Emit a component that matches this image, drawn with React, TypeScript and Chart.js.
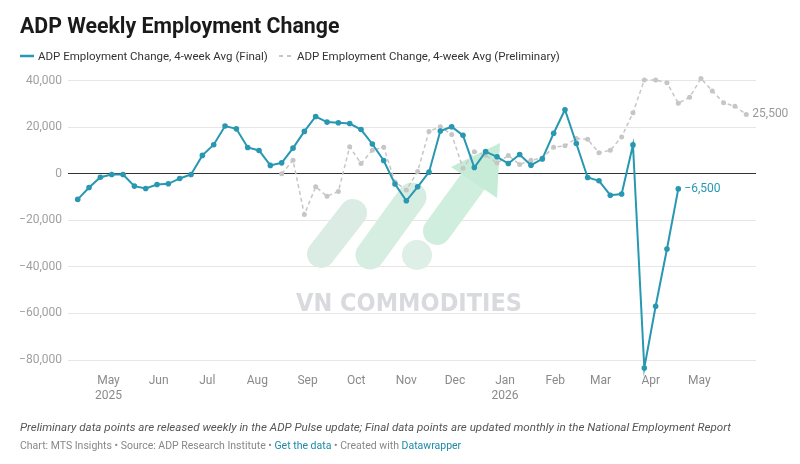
import React, { useEffect, useRef } from "react";
import { Chart, registerables } from "chart.js";

Chart.register(...registerables);

const TITLE = "ADP Weekly Employment Change";
const FINAL_LABEL = "ADP Employment Change, 4-week Avg (Final)";
const PRELIM_LABEL = "ADP Employment Change, 4-week Avg (Preliminary)";
const NOTE =
  "Preliminary data points are released weekly in the ADP Pulse update; Final data points are updated monthly in the National Employment Report";
const WATERMARK = "VN COMMODITIES";

const AXIS_ORIGIN = "2025-05-01";
const FINAL_FIRST_WEEK = "2025-04-12";
const PRELIM_FIRST_WEEK = "2025-08-16";

const finalValues = [
  -11000, -5900, -1500, -300, -300, -5300, -6300, -4600, -4300, -2000,
  -300, 7900, 12500, 20500, 19300, 11300, 10000, 3600, 4700, 11000,
  18200, 24600, 22200, 21900, 21600, 19000, 12800, 5700, -4400, -11600,
  -5600, 700, 18400, 20200, 16500, 2700, 9500, 7300, 4400, 8300,
  3700, 6400, 17400, 27500, 13000, -1600, -3000, -9200, -8700, 12400,
  -83400, -56900, -32300, -6500,
];

const prelimValues = [
  0, 5800, -17500, -5600, -9600, -7600, 11600, 4400, 10100, 11400,
  -3500, -7000, 1000, 18200, 20200, 16900, 2400, 9500, 8000, 4600,
  7900, 4000, 5800, 6800, 11400, 12000, 15200, 14800, 9000, 10100,
  15800, 26200, 40300, 40300, 39100, 30300, 32900, 40900, 35600, 30500,
  29000, 25500,
];

const monthTicks = [
  "2025-05-01", "2025-06-01", "2025-07-01", "2025-08-01", "2025-09-01",
  "2025-10-01", "2025-11-01", "2025-12-01", "2026-01-01", "2026-02-01",
  "2026-03-01", "2026-04-01", "2026-05-01",
];
const monthLabels: (string | string[])[] = [
  ["May", "2025"], "Jun", "Jul", "Aug", "Sep", "Oct", "Nov", "Dec",
  ["Jan", "2026"], "Feb", "Mar", "Apr", "May",
];
const yTicks = [40000, 20000, 0, -20000, -40000, -60000, -80000];

const X_MIN_DAY = -25;
const X_MAX_DAY = 400;
const Y_MIN = -86000;
const Y_MAX = 42000;

const TEAL = "#2897b2";
const GRAY = "#c6c6c6";
const FONT = "Roboto, 'Noto Sans', sans-serif";

const DAY = 86400000;
const dayOf = (iso: string) =>
  (Date.parse(iso + "T00:00:00Z") - Date.parse(AXIS_ORIGIN + "T00:00:00Z")) / DAY;
const weekly = (start: string, values: number[]) =>
  values.map((v, i) => ({ x: dayOf(start) + 7 * i, y: v }));
const fmt = (v: number) => {
  const s = Math.abs(v).toLocaleString("en-US");
  return v < 0 ? "\u2212" + s : s;
};
const monthDays = monthTicks.map(dayOf);

function capsule(ctx: CanvasRenderingContext2D, x1: number, y1: number, x2: number, y2: number, w: number, color: string) {
  ctx.beginPath();
  ctx.lineCap = "round";
  ctx.lineWidth = w;
  ctx.strokeStyle = color;
  ctx.moveTo(x1, y1);
  ctx.lineTo(x2, y2);
  ctx.stroke();
}

const watermark = {
  id: "watermark",
  beforeDatasetsDraw(chart: any) {
    const ctx: CanvasRenderingContext2D = chart.ctx;
    ctx.save();
    capsule(ctx, 321, 254, 353, 213, 28, "#dbece4");
    capsule(ctx, 370, 255, 412, 197, 29, "#d5eee1");
    ctx.beginPath();
    ctx.fillStyle = "#ddefe6";
    ctx.arc(417, 255, 15, 0, Math.PI * 2);
    ctx.fill();
    capsule(ctx, 437, 231, 472, 183, 28, "#cfeedd");
    ctx.beginPath();
    ctx.fillStyle = "#c6ecd7";
    ctx.moveTo(451, 167);
    ctx.lineTo(500, 143);
    ctx.lineTo(497, 198);
    ctx.closePath();
    ctx.fill();
    ctx.font = "bold 25px 'DejaVu Sans', sans-serif";
    ctx.fillStyle = "#d9dade";
    ctx.textAlign = "center";
    ctx.textBaseline = "alphabetic";
    ctx.fillText(WATERMARK, 409, 311, 226);
    ctx.restore();
  },
};

const endLabels = {
  id: "endLabels",
  afterDatasetsDraw(chart: any) {
    const ctx: CanvasRenderingContext2D = chart.ctx;
    ctx.save();
    ctx.font = "12px " + FONT;
    ctx.textBaseline = "middle";
    ctx.textAlign = "left";
    chart.data.datasets.forEach((ds: any, i: number) => {
      const meta = chart.getDatasetMeta(i);
      const pt = meta.data[meta.data.length - 1];
      const v = ds.data[ds.data.length - 1].y;
      ctx.fillStyle = ds.endLabelColor;
      ctx.fillText(fmt(v), pt.x + 6, pt.y);
    });
    ctx.restore();
  },
};

function ChartCanvas() {
  const ref = useRef<HTMLCanvasElement>(null);
  useEffect(() => {
    if (!ref.current) return;
    const chart = new Chart(ref.current, {
      type: "line",
      data: {
        datasets: [
          {
            label: FINAL_LABEL,
            data: weekly(FINAL_FIRST_WEEK, finalValues),
            borderColor: TEAL,
            backgroundColor: TEAL,
            borderWidth: 2,
            pointRadius: 2.8,
            pointBorderWidth: 0,
            pointBackgroundColor: TEAL,
            tension: 0,
            clip: false,
            endLabelColor: TEAL,
          } as any,
          {
            label: PRELIM_LABEL,
            data: weekly(PRELIM_FIRST_WEEK, prelimValues),
            borderColor: GRAY,
            backgroundColor: GRAY,
            borderWidth: 1.5,
            borderDash: [4, 3],
            pointRadius: 2.5,
            pointBorderWidth: 0,
            pointBackgroundColor: GRAY,
            tension: 0,
            clip: false,
            endLabelColor: "#999999",
          } as any,
        ],
      },
      options: {
        animation: false,
        responsive: false,
        devicePixelRatio: 1,
        layout: { padding: { left: 8, right: 44, top: 76, bottom: 60 } },
        plugins: {
          legend: { display: false },
          tooltip: { enabled: false },
          title: { display: false },
        },
        scales: {
          x: {
            type: "linear",
            min: X_MIN_DAY,
            max: X_MAX_DAY,
            afterBuildTicks: (s: any) => {
              s.ticks = monthDays.map((v) => ({ value: v }));
            },
            afterFit: (s: any) => {
              s.height = 30;
            },
            grid: { display: false, drawTicks: false },
            border: { display: false },
            ticks: {
              autoSkip: false,
              maxRotation: 0,
              padding: 0,
              color: "#8a8a8a",
              font: { family: FONT, size: 12 },
              callback: (v: any) => {
                const i = monthDays.indexOf(Number(v));
                return i >= 0 ? monthLabels[i] : "";
              },
            },
          },
          y: {
            min: Y_MIN,
            max: Y_MAX,
            afterBuildTicks: (s: any) => {
              s.ticks = yTicks.map((v) => ({ value: v }));
            },
            afterFit: (s: any) => {
              s.width = 60;
            },
            grid: {
              drawTicks: false,
              lineWidth: 1,
              color: (c: any) => (c.tick && c.tick.value === 0 ? "#333333" : "#e6e6e6"),
            },
            border: { display: false },
            ticks: {
              padding: 6,
              color: "#a0a0a0",
              font: { family: FONT, size: 12 },
              callback: (v: any) => fmt(Number(v)),
            },
          },
        },
      } as any,
      plugins: [watermark, endLabels],
    });
    return () => chart.destroy();
  }, []);
  return (
    <canvas
      ref={ref}
      width={800}
      height={464}
      style={{ position: "absolute", left: 0, top: 0, width: 800, height: 464 }}
    />
  );
}

export default function App() {
  const text: React.CSSProperties = { position: "absolute", fontFamily: FONT, whiteSpace: "nowrap" };
  return (
    <div style={{ position: "fixed", left: 0, top: 0, width: 800, height: 464, background: "#fff", overflow: "hidden" }}>
      <ChartCanvas />
      <div style={{ ...text, left: 20, top: 13, fontSize: 21.3, lineHeight: "26px", fontWeight: 700, color: "#1a1a1a" }}>
        {TITLE}
      </div>
      <div style={{ ...text, left: 20, top: 48, height: 16, fontSize: 11.5, lineHeight: "16px", color: "#333", display: "flex", alignItems: "center" }}>
        <svg width={14} height={4} style={{ marginRight: 4 }}>
          <line x1={0} y1={2} x2={14} y2={2} stroke={TEAL} strokeWidth={2.5} />
        </svg>
        <span>{FINAL_LABEL}</span>
        <svg width={14} height={4} style={{ marginLeft: 11, marginRight: 4 }}>
          <line x1={0} y1={2} x2={14} y2={2} stroke={GRAY} strokeWidth={2} strokeDasharray="4 4" />
        </svg>
        <span>{PRELIM_LABEL}</span>
      </div>
      <div style={{ ...text, left: 20, top: 419, fontSize: 11.6, lineHeight: "16px", fontStyle: "italic", color: "#555" }}>
        {NOTE}
      </div>
      <div style={{ ...text, left: 20, top: 438, fontSize: 10.5, lineHeight: "15px", color: "#888" }}>
        Chart: MTS Insights • Source: ADP Research Institute •{" "}
        <span style={{ color: "#1d8aa6" }}>Get the data</span> • Created with{" "}
        <span style={{ color: "#1d8aa6" }}>Datawrapper</span>
      </div>
    </div>
  );
}
